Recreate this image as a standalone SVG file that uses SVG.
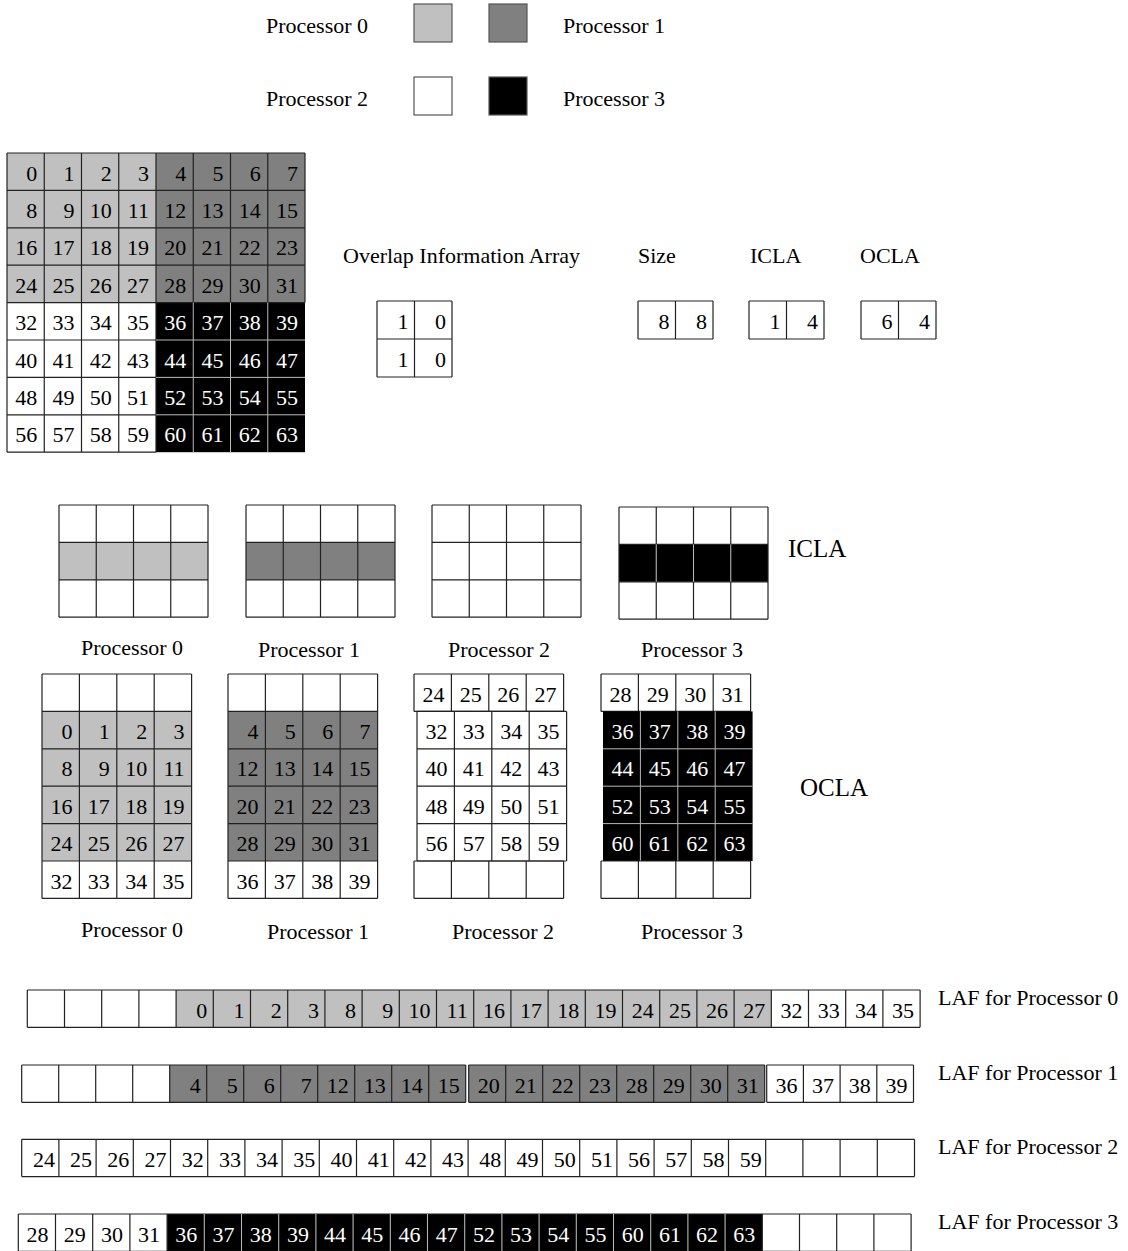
<svg xmlns="http://www.w3.org/2000/svg" xmlns:xlink="http://www.w3.org/1999/xlink" width="1128" height="1251" viewBox="0 0 1128 1251">
<style>
text{font-family:"Liberation Serif","Times New Roman",serif;font-size:22px;fill:#000}
.num{text-anchor:end}
.wt{fill:#fff}
.big{font-size:25px}
.ln{fill:none;stroke:#222;stroke-width:1.2}
.lt{fill:none;stroke:#b8b8b8;stroke-width:1}
.sw{stroke:#555;stroke-width:1.2}
.c0{fill:#c0c0c0}.c1{fill:#808080}.c2{fill:#fff}.c3{fill:#000}
</style>
<defs>
<path id="g4x3" d="M0 0H149M0 37.4H149M0 74.8H149M0 112.2H149M0 0V112.2M37.25 0V112.2M74.5 0V112.2M111.75 0V112.2M149 0V112.2"/>
<path id="g4x1" d="M0 0H149.6M0 37.4H149.6M0 0V37.4M37.4 0V37.4M74.8 0V37.4M112.2 0V37.4M149.6 0V37.4"/>
<path id="g4x4" d="M0 0H149.6M0 37.4H149.6M0 74.8H149.6M0 112.2H149.6M0 149.6H149.6M0 0V149.6M37.4 0V149.6M74.8 0V149.6M112.2 0V149.6M149.6 0V149.6"/>
<path id="g4x6" d="M0 0H149.6M0 37.4H149.6M0 74.8H149.6M0 112.2H149.6M0 149.6H149.6M0 187H149.6M0 224.4H149.6M0 0V224.4M37.4 0V224.4M74.8 0V224.4M112.2 0V224.4M149.6 0V224.4"/>
<path id="laf" d="M0 0H892.8M0 37.3H892.8M0 0V37.3M37.2 0V37.3M74.4 0V37.3M111.6 0V37.3M148.8 0V37.3M186 0V37.3M223.2 0V37.3M260.4 0V37.3M297.6 0V37.3M334.8 0V37.3M372 0V37.3M409.2 0V37.3M446.4 0V37.3M483.6 0V37.3M520.8 0V37.3M558 0V37.3M595.2 0V37.3M632.4 0V37.3M669.6 0V37.3M706.8 0V37.3M744 0V37.3M781.2 0V37.3M818.4 0V37.3M855.6 0V37.3M892.8 0V37.3"/>
</defs>

<g id="legend">
<text x="266" y="33">Processor 0</text>
<rect class="c0 sw" x="414" y="4" width="38" height="38"/>
<rect class="c1 sw" x="489" y="4" width="38" height="38"/>
<text x="563" y="33">Processor 1</text>
<text x="266" y="106">Processor 2</text>
<rect class="c2 sw" x="414" y="77" width="38" height="38"/>
<rect class="c3 sw" x="489" y="77" width="38" height="38"/>
<text x="563" y="106">Processor 3</text>
</g>

<g id="global-array" transform="translate(7,153)">
<rect class="c0" width="149" height="149.6"/>
<rect class="c1" x="149" width="149" height="149.6"/>
<rect class="c2" y="149.6" width="149" height="149.6"/>
<rect class="c3" x="149" y="149.6" width="149" height="149.6"/>
<path class="ln" d="M0 0H298M0 37.4H298M0 74.8H298M0 112.2H298M0 149.6H298M0 187H149M0 224.4H149M0 261.8H149M0 299.2H149M0 0V299.2M37.25 0V299.2M74.5 0V299.2M111.75 0V299.2M149 0V299.2M186.25 0V149.6M223.5 0V149.6M260.75 0V149.6M298 0V149.6"/>
<path class="lt" d="M149 187H298M149 224.4H298M149 261.8H298M186.25 149.6V299.2M223.5 149.6V299.2M260.75 149.6V299.2"/>
<g transform="translate(0,27.5)">
<text class="num" x="30.25">0</text><text class="num" x="67.5">1</text><text class="num" x="104.75">2</text><text class="num" x="142">3</text><text class="num" x="179.25">4</text><text class="num" x="216.5">5</text><text class="num" x="253.75">6</text><text class="num" x="291">7</text>
</g>
<g transform="translate(0,64.9)">
<text class="num" x="30.25">8</text><text class="num" x="67.5">9</text><text class="num" x="104.75">10</text><text class="num" x="142">11</text><text class="num" x="179.25">12</text><text class="num" x="216.5">13</text><text class="num" x="253.75">14</text><text class="num" x="291">15</text>
</g>
<g transform="translate(0,102.3)">
<text class="num" x="30.25">16</text><text class="num" x="67.5">17</text><text class="num" x="104.75">18</text><text class="num" x="142">19</text><text class="num" x="179.25">20</text><text class="num" x="216.5">21</text><text class="num" x="253.75">22</text><text class="num" x="291">23</text>
</g>
<g transform="translate(0,139.7)">
<text class="num" x="30.25">24</text><text class="num" x="67.5">25</text><text class="num" x="104.75">26</text><text class="num" x="142">27</text><text class="num" x="179.25">28</text><text class="num" x="216.5">29</text><text class="num" x="253.75">30</text><text class="num" x="291">31</text>
</g>
<g transform="translate(0,177.1)">
<text class="num" x="30.25">32</text><text class="num" x="67.5">33</text><text class="num" x="104.75">34</text><text class="num" x="142">35</text><text class="num wt" x="179.25">36</text><text class="num wt" x="216.5">37</text><text class="num wt" x="253.75">38</text><text class="num wt" x="291">39</text>
</g>
<g transform="translate(0,214.5)">
<text class="num" x="30.25">40</text><text class="num" x="67.5">41</text><text class="num" x="104.75">42</text><text class="num" x="142">43</text><text class="num wt" x="179.25">44</text><text class="num wt" x="216.5">45</text><text class="num wt" x="253.75">46</text><text class="num wt" x="291">47</text>
</g>
<g transform="translate(0,251.9)">
<text class="num" x="30.25">48</text><text class="num" x="67.5">49</text><text class="num" x="104.75">50</text><text class="num" x="142">51</text><text class="num wt" x="179.25">52</text><text class="num wt" x="216.5">53</text><text class="num wt" x="253.75">54</text><text class="num wt" x="291">55</text>
</g>
<g transform="translate(0,289.3)">
<text class="num" x="30.25">56</text><text class="num" x="67.5">57</text><text class="num" x="104.75">58</text><text class="num" x="142">59</text><text class="num wt" x="179.25">60</text><text class="num wt" x="216.5">61</text><text class="num wt" x="253.75">62</text><text class="num wt" x="291">63</text>
</g>
</g>

<g id="overlap-array">
<text x="343" y="263">Overlap Information Array</text>
<rect class="c2" x="377" y="301" width="75" height="76"/>
<path class="ln" d="M377 301H452M377 339H452M377 377H452M377 301V377M414.5 301V377M452 301V377"/>
<text class="num" x="408.5" y="328.5">1</text><text class="num" x="446" y="328.5">0</text>
<text class="num" x="408.5" y="366.5">1</text><text class="num" x="446" y="366.5">0</text>
</g>

<g id="size-array">
<text x="638" y="263">Size</text>
<path class="ln" d="M638 301H713M638 339H713M638 301V339M675.5 301V339M713 301V339"/>
<text class="num" x="669.5" y="328.5">8</text><text class="num" x="707" y="328.5">8</text>
</g>

<g id="icla-array">
<text x="750" y="263">ICLA</text>
<path class="ln" d="M749 301H824M749 339H824M749 301V339M786.5 301V339M824 301V339"/>
<text class="num" x="780.5" y="328.5">1</text><text class="num" x="818" y="328.5">4</text>
</g>

<g id="ocla-array">
<text x="860" y="263">OCLA</text>
<path class="ln" d="M861 301H936M861 339H936M861 301V339M898.5 301V339M936 301V339"/>
<text class="num" x="892.5" y="328.5">6</text><text class="num" x="930" y="328.5">4</text>
</g>

<g id="icla-p0" transform="translate(59,505)">
<rect class="c0" y="37.4" width="149" height="37.4"/>
<use xlink:href="#g4x3" class="ln"/>
</g>
<g id="icla-p1" transform="translate(246,505)">
<rect class="c1" y="37.4" width="149" height="37.4"/>
<use xlink:href="#g4x3" class="ln"/>
</g>
<g id="icla-p2" transform="translate(432,505)">
<use xlink:href="#g4x3" class="ln"/>
</g>
<g id="icla-p3" transform="translate(619,507)">
<rect class="c3" y="37.4" width="149" height="37.4"/>
<use xlink:href="#g4x3" class="ln"/>
<path class="lt" d="M37.25 37.4V74.8M74.5 37.4V74.8M111.75 37.4V74.8"/>
</g>
<g id="icla-labels">
<text x="81" y="655">Processor 0</text>
<text x="258" y="657">Processor 1</text>
<text x="448" y="657">Processor 2</text>
<text x="641" y="657">Processor 3</text>
<text class="big" x="788" y="557">ICLA</text>
</g>

<g id="ocla-p0" transform="translate(42,674)">
<rect class="c0" y="37.4" width="149.6" height="149.6"/>
<use xlink:href="#g4x6" class="ln"/>
<g transform="translate(0,64.9)"><text class="num" x="30.4">0</text><text class="num" x="67.8">1</text><text class="num" x="105.2">2</text><text class="num" x="142.6">3</text></g>
<g transform="translate(0,102.3)"><text class="num" x="30.4">8</text><text class="num" x="67.8">9</text><text class="num" x="105.2">10</text><text class="num" x="142.6">11</text></g>
<g transform="translate(0,139.7)"><text class="num" x="30.4">16</text><text class="num" x="67.8">17</text><text class="num" x="105.2">18</text><text class="num" x="142.6">19</text></g>
<g transform="translate(0,177.1)"><text class="num" x="30.4">24</text><text class="num" x="67.8">25</text><text class="num" x="105.2">26</text><text class="num" x="142.6">27</text></g>
<g transform="translate(0,214.5)"><text class="num" x="30.4">32</text><text class="num" x="67.8">33</text><text class="num" x="105.2">34</text><text class="num" x="142.6">35</text></g>
</g>
<g id="ocla-p1" transform="translate(228,674)">
<rect class="c1" y="37.4" width="149.6" height="149.6"/>
<use xlink:href="#g4x6" class="ln"/>
<g transform="translate(0,64.9)"><text class="num" x="30.4">4</text><text class="num" x="67.8">5</text><text class="num" x="105.2">6</text><text class="num" x="142.6">7</text></g>
<g transform="translate(0,102.3)"><text class="num" x="30.4">12</text><text class="num" x="67.8">13</text><text class="num" x="105.2">14</text><text class="num" x="142.6">15</text></g>
<g transform="translate(0,139.7)"><text class="num" x="30.4">20</text><text class="num" x="67.8">21</text><text class="num" x="105.2">22</text><text class="num" x="142.6">23</text></g>
<g transform="translate(0,177.1)"><text class="num" x="30.4">28</text><text class="num" x="67.8">29</text><text class="num" x="105.2">30</text><text class="num" x="142.6">31</text></g>
<g transform="translate(0,214.5)"><text class="num" x="30.4">36</text><text class="num" x="67.8">37</text><text class="num" x="105.2">38</text><text class="num" x="142.6">39</text></g>
</g>
<g id="ocla-p2">
<g transform="translate(414,674)">
<use xlink:href="#g4x1" class="ln"/>
<g transform="translate(0,27.5)"><text class="num" x="30.4">24</text><text class="num" x="67.8">25</text><text class="num" x="105.2">26</text><text class="num" x="142.6">27</text></g>
</g>
<g transform="translate(417,711.4)">
<use xlink:href="#g4x4" class="ln"/>
<g transform="translate(0,27.5)"><text class="num" x="30.4">32</text><text class="num" x="67.8">33</text><text class="num" x="105.2">34</text><text class="num" x="142.6">35</text></g>
<g transform="translate(0,64.9)"><text class="num" x="30.4">40</text><text class="num" x="67.8">41</text><text class="num" x="105.2">42</text><text class="num" x="142.6">43</text></g>
<g transform="translate(0,102.3)"><text class="num" x="30.4">48</text><text class="num" x="67.8">49</text><text class="num" x="105.2">50</text><text class="num" x="142.6">51</text></g>
<g transform="translate(0,139.7)"><text class="num" x="30.4">56</text><text class="num" x="67.8">57</text><text class="num" x="105.2">58</text><text class="num" x="142.6">59</text></g>
</g>
<g transform="translate(414,861)">
<use xlink:href="#g4x1" class="ln"/>
</g>
</g>
<g id="ocla-p3">
<g transform="translate(601,674)">
<use xlink:href="#g4x1" class="ln"/>
<g transform="translate(0,27.5)"><text class="num" x="30.4">28</text><text class="num" x="67.8">29</text><text class="num" x="105.2">30</text><text class="num" x="142.6">31</text></g>
</g>
<g transform="translate(603,711.4)">
<rect class="c3" width="149.6" height="149.6"/>
<path class="lt" d="M0 37.4H149.6M0 74.8H149.6M0 112.2H149.6M37.4 0V149.6M74.8 0V149.6M112.2 0V149.6"/>
<g transform="translate(0,27.5)"><text class="num wt" x="30.4">36</text><text class="num wt" x="67.8">37</text><text class="num wt" x="105.2">38</text><text class="num wt" x="142.6">39</text></g>
<g transform="translate(0,64.9)"><text class="num wt" x="30.4">44</text><text class="num wt" x="67.8">45</text><text class="num wt" x="105.2">46</text><text class="num wt" x="142.6">47</text></g>
<g transform="translate(0,102.3)"><text class="num wt" x="30.4">52</text><text class="num wt" x="67.8">53</text><text class="num wt" x="105.2">54</text><text class="num wt" x="142.6">55</text></g>
<g transform="translate(0,139.7)"><text class="num wt" x="30.4">60</text><text class="num wt" x="67.8">61</text><text class="num wt" x="105.2">62</text><text class="num wt" x="142.6">63</text></g>
</g>
<g transform="translate(601,861)">
<use xlink:href="#g4x1" class="ln"/>
</g>
</g>
<g id="ocla-labels">
<text x="81" y="937">Processor 0</text>
<text x="267" y="939">Processor 1</text>
<text x="452" y="939">Processor 2</text>
<text x="641" y="939">Processor 3</text>
<text class="big" x="800" y="796">OCLA</text>
</g>

<g id="laf-p0" transform="translate(27.3,990)">
<rect class="c0" x="148.8" width="595.2" height="37.3"/>
<use xlink:href="#laf" class="ln"/>
<g transform="translate(0,27.8)">
<text class="num" x="180">0</text><text class="num" x="217.2">1</text><text class="num" x="254.4">2</text><text class="num" x="291.6">3</text><text class="num" x="328.8">8</text><text class="num" x="366">9</text><text class="num" x="403.2">10</text><text class="num" x="440.4">11</text><text class="num" x="477.6">16</text><text class="num" x="514.8">17</text><text class="num" x="552">18</text><text class="num" x="589.2">19</text><text class="num" x="626.4">24</text><text class="num" x="663.6">25</text><text class="num" x="700.8">26</text><text class="num" x="738">27</text><text class="num" x="775.2">32</text><text class="num" x="812.4">33</text><text class="num" x="849.6">34</text><text class="num" x="886.8">35</text>
</g>
</g>
<g id="laf-p1" transform="translate(21.7,1065)">
<rect class="c1" x="148" width="296" height="37.3"/>
<rect class="c1" x="447" width="296" height="37.3"/>
<path class="ln" d="M0 0H444M0 37.3H444M447 0H743M447 37.3H743M745 0H891.8M745 37.3H891.8M0 0V37.3M37 0V37.3M74 0V37.3M111 0V37.3M148 0V37.3M185 0V37.3M222 0V37.3M259 0V37.3M296 0V37.3M333 0V37.3M370 0V37.3M407 0V37.3M444 0V37.3M447 0V37.3M484 0V37.3M521 0V37.3M558 0V37.3M595 0V37.3M632 0V37.3M669 0V37.3M706 0V37.3M743 0V37.3M745 0V37.3M781.7 0V37.3M818.4 0V37.3M855.1 0V37.3M891.8 0V37.3"/>
<g transform="translate(0,27.8)">
<text class="num" x="179">4</text><text class="num" x="216">5</text><text class="num" x="253">6</text><text class="num" x="290">7</text><text class="num" x="327">12</text><text class="num" x="364">13</text><text class="num" x="401">14</text><text class="num" x="438">15</text><text class="num" x="478">20</text><text class="num" x="515">21</text><text class="num" x="552">22</text><text class="num" x="589">23</text><text class="num" x="626">28</text><text class="num" x="663">29</text><text class="num" x="700">30</text><text class="num" x="737">31</text><text class="num" x="775.7">36</text><text class="num" x="812.4">37</text><text class="num" x="849.1">38</text><text class="num" x="885.8">39</text>
</g>
</g>
<g id="laf-p2" transform="translate(21.7,1139.3)">
<use xlink:href="#laf" class="ln"/>
<g transform="translate(0,27.8)">
<text class="num" x="33.2">24</text><text class="num" x="70.4">25</text><text class="num" x="107.6">26</text><text class="num" x="144.8">27</text><text class="num" x="182">32</text><text class="num" x="219.2">33</text><text class="num" x="256.4">34</text><text class="num" x="293.6">35</text><text class="num" x="330.8">40</text><text class="num" x="368">41</text><text class="num" x="405.2">42</text><text class="num" x="442.4">43</text><text class="num" x="479.6">48</text><text class="num" x="516.8">49</text><text class="num" x="554">50</text><text class="num" x="591.2">51</text><text class="num" x="628.4">56</text><text class="num" x="665.6">57</text><text class="num" x="702.8">58</text><text class="num" x="740">59</text>
</g>
</g>
<g id="laf-p3" transform="translate(18.3,1214)">
<rect class="c3" x="148.8" width="595.2" height="37.3"/>
<use xlink:href="#laf" class="ln"/>
<path class="lt" d="M186 0V37.3M223.2 0V37.3M260.4 0V37.3M297.6 0V37.3M334.8 0V37.3M372 0V37.3M409.2 0V37.3M446.4 0V37.3M483.6 0V37.3M520.8 0V37.3M558 0V37.3M595.2 0V37.3M632.4 0V37.3M669.6 0V37.3M706.8 0V37.3"/>
<g transform="translate(0,27.8)">
<text class="num" x="30.2">28</text><text class="num" x="67.4">29</text><text class="num" x="104.6">30</text><text class="num" x="141.8">31</text><text class="num wt" x="179">36</text><text class="num wt" x="216.2">37</text><text class="num wt" x="253.4">38</text><text class="num wt" x="290.6">39</text><text class="num wt" x="327.8">44</text><text class="num wt" x="365">45</text><text class="num wt" x="402.2">46</text><text class="num wt" x="439.4">47</text><text class="num wt" x="476.6">52</text><text class="num wt" x="513.8">53</text><text class="num wt" x="551">54</text><text class="num wt" x="588.2">55</text><text class="num wt" x="625.4">60</text><text class="num wt" x="662.6">61</text><text class="num wt" x="699.8">62</text><text class="num wt" x="737">63</text>
</g>
</g>
<g id="laf-labels">
<text x="938" y="1005">LAF for Processor 0</text>
<text x="938" y="1080">LAF for Processor 1</text>
<text x="938" y="1154">LAF for Processor 2</text>
<text x="938" y="1229">LAF for Processor 3</text>
</g>
</svg>
